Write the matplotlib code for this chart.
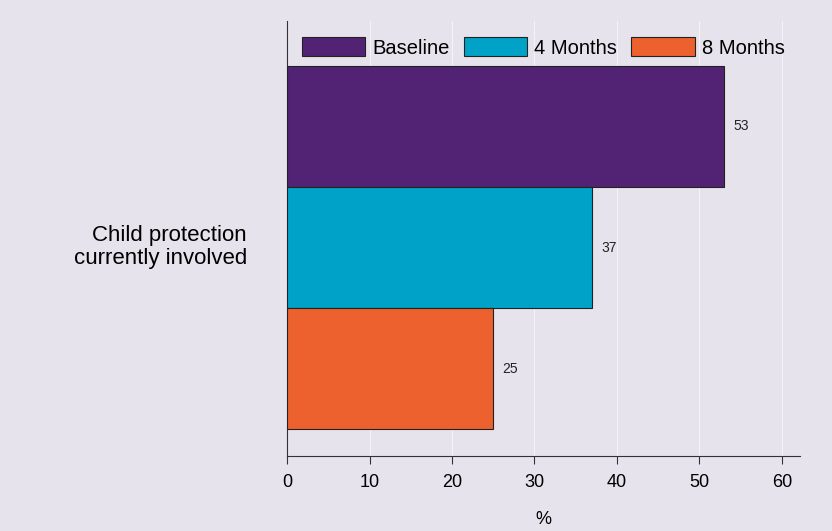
import matplotlib
matplotlib.use("Agg")
import matplotlib.pyplot as plt
from matplotlib.patches import Patch

plt.rcParams['font.family'] = ['Liberation Sans', 'DejaVu Sans']

category = "Child protection\ncurrently involved"
series = ["Baseline", "4 Months", "8 Months"]
values = [53, 37, 25]
colors = ["#522375", "#00A3C7", "#EC612D"]
xticks = [0, 10, 20, 30, 40, 50, 60]

bg = "#E6E3EC"
fig = plt.figure(figsize=(8.32, 5.31), dpi=100, facecolor=bg)
ax = fig.add_axes([0.345, 0.1412, 0.6165, 0.8193], facecolor=bg)

ypos = [2, 1, 0]
ax.barh(ypos, values, height=1.0, color=colors, edgecolor="#222222", linewidth=0.8, zorder=3)
for y, v in zip(ypos, values):
    ax.text(v + 1.1, y, f"{v}", va="center", ha="left", fontsize=10, color="#222222")

ax.set_xlim(0, 62.2)
ax.set_ylim(-0.723, 2.872)
ax.set_xticks(xticks)
ax.set_xticklabels([str(t) for t in xticks], fontsize=13)
ax.set_yticks([])
ax.grid(axis="x", color="white", linewidth=0.7, alpha=0.6, zorder=0)
for s in ["top", "right"]:
    ax.spines[s].set_visible(False)
ax.spines["left"].set_color("#333333")
ax.spines["bottom"].set_color("#333333")
ax.tick_params(axis="x", length=6, color="#333333", pad=7)
ax.set_xlabel("%", fontsize=13, labelpad=14)

ax.text(-0.078, 0.48, category, transform=ax.transAxes, ha="right", va="center",
        fontsize=16, linespacing=1.15)

handles = [Patch(facecolor=c, edgecolor="#222222", linewidth=0.8) for c in colors]
ax.legend(handles, series, loc="upper left", bbox_to_anchor=(0.029, 0.963), ncol=3,
          frameon=False, fontsize=14.5, handlelength=3.15, handleheight=1.1,
          columnspacing=0.7, handletextpad=0.35, borderpad=0, borderaxespad=0)

fig.savefig("out.png", dpi=100, facecolor=bg)
